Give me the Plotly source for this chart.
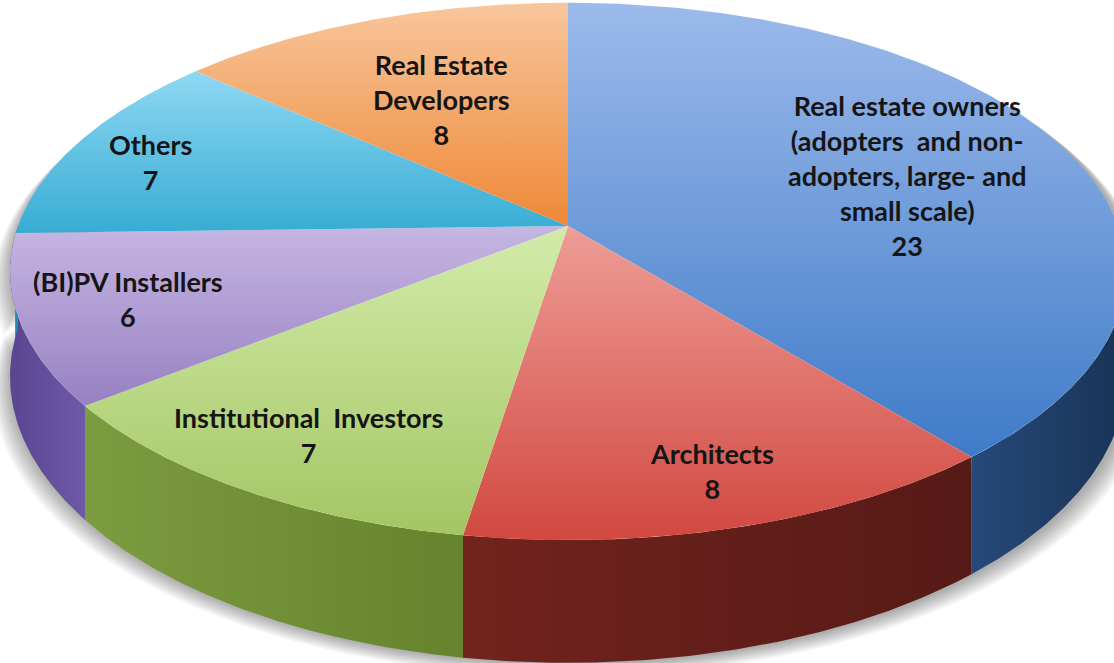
import numpy as np
import plotly.graph_objects as go

# Stakeholder groups interviewed, clockwise from 12 o'clock
names = [
    "Real estate owners<br>(adopters  and non-<br>adopters, large- and<br>small scale)",
    "Architects",
    "Institutional  Investors",
    "(BI)PV Installers",
    "Others",
    "Real Estate<br>Developers",
]
values = [23, 8, 7, 6, 7, 8]

# top-face gradient (far colour, near colour) and side-wall gradient (left, right)
top_colors = [
    ("#9cbaeb", "#3f7bc8"),
    ("#ee9d97", "#d14840"),
    ("#d3ebaa", "#a3c663"),
    ("#c6b6e2", "#9781c3"),
    ("#8fd8f3", "#37acd3"),
    ("#f8c69c", "#ee8836"),
]
wall_colors = [
    ("#26497a", "#1a3356"),
    ("#72231d", "#561a16"),
    ("#7c9c40", "#66832d"),
    ("#5a4590", "#6d59a7"),
    ("#1c8fb5", "#1c8fb5"),
    ("#c86a1e", "#c86a1e"),
]
label_pos = [(907, 175), (712, 471), (308, 435), (128, 299), (150, 162), (441, 99)]

# perspective projection of a unit disc tilted away from the viewer
CX, CY = 568.0, 226.0
RX, RY = 550.0, 261.0
K = 0.169      # foreshortening of the far half
H = 102.0      # thickness of the pie


def project(phi, depth=0.0):
    X, Y = np.sin(phi), np.cos(phi)
    s = 1.0 / (1.0 + K * Y)
    return CX + RX * X * s, CY - RY * Y * s + H * depth * s


W, HT = 1114, 663
fig = go.Figure()

total = float(sum(values))
bounds = np.concatenate([[0.0], np.cumsum(values) / total]) * 2 * np.pi

# soft drop shadow: the silhouette grown outward and downward in translucent steps
full = np.linspace(np.pi / 2 - 0.45, 3 * np.pi / 2 + 0.45, 240)
for grow in range(18, 0, -2):
    bx, by = project(full, 1.0)
    tx, ty = project(full[::-1], 0.0)
    sx = np.concatenate([bx, tx])
    sy = np.concatenate([by, ty])
    sx = CX + (sx - CX) * (1 + grow / RX) + 2
    sy = sy + grow * 0.75
    fig.add_trace(go.Scatter(x=sx, y=sy, mode="lines", fill="toself",
                             fillcolor="rgba(0,0,0,0.04)", line=dict(width=0),
                             hoverinfo="skip", showlegend=False))

# outer side walls on the near half
for i in range(len(values)):
    a0 = max(bounds[i], np.pi / 2)
    a1 = min(bounds[i + 1], 3 * np.pi / 2)
    if a1 <= a0:
        continue
    ph = np.linspace(a0, a1, 120)
    tx, ty = project(ph, 0.0)
    bx, by = project(ph[::-1], 1.0)
    xs = np.concatenate([tx, bx, tx[:1]])
    ys = np.concatenate([ty, by, ty[:1]])
    c0, c1 = wall_colors[i]
    fig.add_trace(go.Scatter(
        x=xs, y=ys, mode="lines", fill="toself", line=dict(width=0),
        fillgradient=dict(type="horizontal", colorscale=[[0, c0], [1, c1]],
                          start=float(xs.min()), stop=float(xs.max())),
        hoverinfo="skip", showlegend=False))

# top faces
for i in range(len(values)):
    ph = np.linspace(bounds[i], bounds[i + 1], 160)
    ax, ay = project(ph, 0.0)
    xs = np.concatenate([[CX], ax, [CX]])
    ys = np.concatenate([[CY], ay, [CY]])
    c0, c1 = top_colors[i]
    fig.add_trace(go.Scatter(
        x=xs, y=ys, mode="lines", fill="toself", line=dict(width=0),
        fillgradient=dict(type="vertical", colorscale=[[0, c0], [1, c1]],
                          start=float(ys.min()), stop=float(ys.max())),
        hoverinfo="skip", showlegend=False))

# slice labels with their counts
for name, v, (lx, ly) in zip(names, values, label_pos):
    fig.add_annotation(x=lx, y=ly, text=f"{name}<br>{v}", showarrow=False,
                       font=dict(family="Lato", size=27, color="#151515", weight="bold"),
                       align="center", xanchor="center", yanchor="middle")

fig.update_layout(
    width=W, height=HT, margin=dict(l=0, r=0, t=0, b=0),
    paper_bgcolor="white", plot_bgcolor="white",
    xaxis=dict(range=[0, W], visible=False, fixedrange=True),
    yaxis=dict(range=[HT, 0], visible=False, fixedrange=True),
)

fig.write_html("out.html")
